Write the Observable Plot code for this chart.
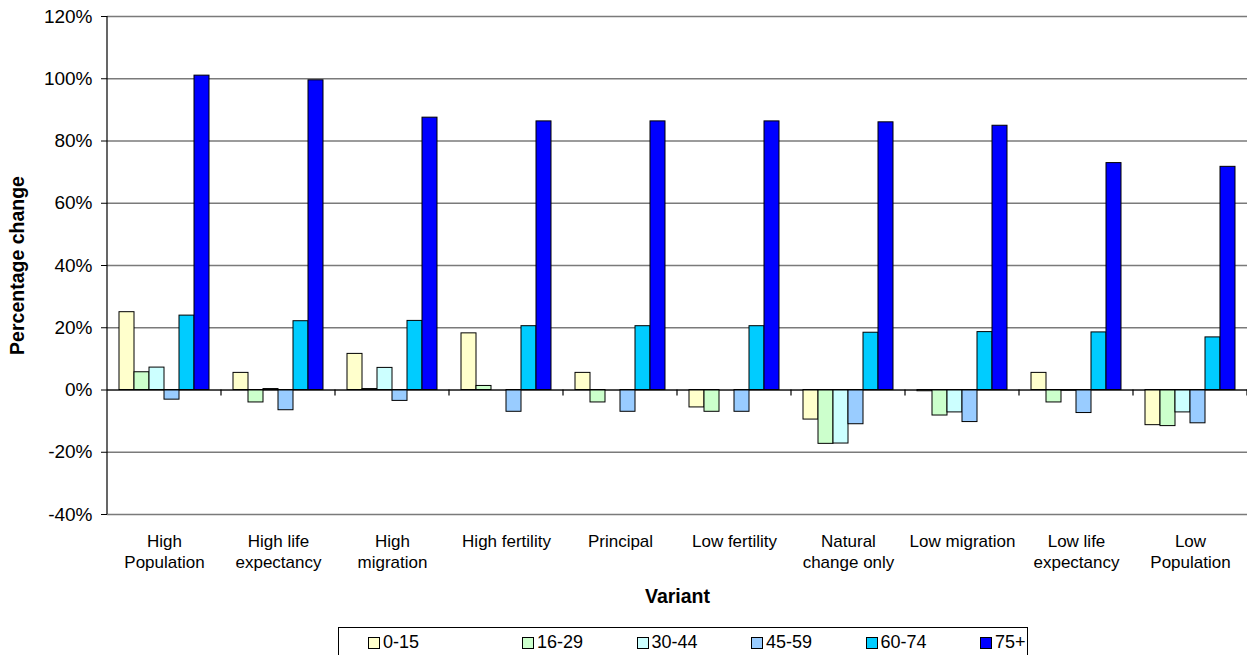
<!DOCTYPE html>
<html>
<head>
<meta charset="utf-8">
<script src="https://cdn.jsdelivr.net/npm/d3@7"></script>
<script src="https://cdn.jsdelivr.net/npm/@observablehq/plot@0.6"></script>
<style>
  body { margin: 0; background: #fff; font-family: Arial, "Liberation Sans", sans-serif; }
  #wrap { position: relative; width: 1247px; height: 655px; overflow: hidden; background: #fff; }
  #wrap svg { display: block; }
  #legend {
    position: absolute; left: 338px; top: 627px; width: 690px; height: 34px;
    box-sizing: border-box; border: 1px solid #000; background: #fff;
    display: flex; align-items: flex-start; padding: 4px 0 0 29px;
    font-size: 18px; color: #000;
  }
  #legend .item { display: flex; align-items: center; width: 114.5px; flex: none; }
  #legend .item:first-child { width: 154px; }
  #legend .sw { width: 10px; height: 10px; border: 1px solid #000; margin-right: 3px; flex: none; }
</style>
</head>
<body>
<div id="wrap"></div>
<script>
// Projection variants (categories) and their two-line axis labels
const variants = ["High Population", "High life expectancy", "High migration", "High fertility", "Principal",
  "Low fertility", "Natural change only", "Low migration", "Low life expectancy", "Low Population"];
const variantLabels = ["High\nPopulation", "High life\nexpectancy", "High\nmigration", "High fertility", "Principal",
  "Low fertility", "Natural\nchange only", "Low migration", "Low life\nexpectancy", "Low\nPopulation"];

// Age bands (series) and their fills
const ageBands = ["0-15", "16-29", "30-44", "45-59", "60-74", "75+"];
const bandColors = ["#FFFFCC", "#CCFFCC", "#CCFFFF", "#99CCFF", "#00CCFF", "#0000FF"];

// Percentage change per variant, one array per age band
const age0_15  = [25.0, 5.5, 11.6, 18.2, 5.5, -5.6, -9.5, -0.4, 5.5, -11.3];
const age16_29 = [5.7, -4.0, 0.3, 1.3, -4.0, -7.0, -17.3, -8.2, -4.0, -11.6];
const age30_44 = [7.2, 0.3, 7.1, 0.0, 0.0, 0.0, -17.2, -7.2, -0.2, -7.2];
const age45_59 = [-3.1, -6.5, -3.5, -7.0, -7.0, -7.0, -11.0, -10.3, -7.4, -10.7];
const age60_74 = [23.9, 22.1, 22.2, 20.5, 20.5, 20.5, 18.4, 18.6, 18.5, 16.9];
const age75plus = [101.0, 99.5, 87.5, 86.3, 86.3, 86.3, 86.0, 84.9, 72.9, 71.7];

// Value axis ticks
const yTicks = [-40, -20, 0, 20, 40, 60, 80, 100, 120];

const series = [age0_15, age16_29, age30_44, age45_59, age60_74, age75plus];
const rows = [];
variants.forEach((v, i) => {
  ageBands.forEach((b, j) => rows.push({variant: v, band: b, value: series[j][i]}));
});

const font = 'Arial, "Liberation Sans", sans-serif';

const chart = Plot.plot({
  width: 1247,
  height: 620,
  marginTop: 16,
  marginBottom: 106,
  marginLeft: 107,
  marginRight: 0,
  style: {fontFamily: font, background: "white", color: "#000", overflow: "visible"},
  fx: {domain: variants, padding: 0},
  x: {domain: ageBands, paddingInner: 0, paddingOuter: 0.75, axis: null},
  y: {domain: [-40, 120]},
  color: {domain: ageBands, range: bandColors},
  marks: [
    Plot.ruleY(yTicks, {stroke: "#7a7a7a", strokeWidth: 1.3}),
    Plot.barY(rows, {fx: "variant", x: "band", y: "value", fill: "band", stroke: "#000", strokeWidth: 1}),
    Plot.ruleY([0], {stroke: "#000", strokeWidth: 1.2}),
    Plot.axisY({
      ticks: yTicks, tickFormat: d => d + "%", tickSize: 6, tickPadding: 9,
      fontSize: 19, label: "Percentage change", labelAnchor: "center", labelArrow: "none", labelOffset: 97
    }),
    Plot.axisFx({
      anchor: "bottom", tickSize: 0, tickPadding: 18, fontSize: 17, lineHeight: 1.23,
      tickFormat: d => variantLabels[variants.indexOf(d)],
      label: "Variant", labelAnchor: "center", labelArrow: "none", labelOffset: 88
    })
  ]
});

// Axis titles in bold
const svg = d3.select(chart);
svg.selectAll('[aria-label="y-axis label"] text, [aria-label="fx-axis label"] text')
  .attr("font-weight", "bold").attr("font-size", 19.5);

// Vertical value-axis line and category boundary ticks, placed with the plot's scales
const fxScale = chart.scale("fx");
const yScale = chart.scale("y");
const y0 = yScale.apply(0);
const g = svg.append("g").attr("stroke", "#000").attr("stroke-width", 1.2);
const left = fxScale.apply(variants[0]);
g.append("line").attr("x1", left).attr("x2", left)
  .attr("y1", yScale.apply(120)).attr("y2", yScale.apply(-40));
variants.forEach(v => {
  const xx = fxScale.apply(v) + fxScale.bandwidth;
  g.append("line").attr("x1", xx).attr("x2", xx).attr("y1", y0).attr("y2", y0 + 6);
});

document.getElementById("wrap").appendChild(chart);

// Legend below the chart
const legend = d3.select("#wrap").append("div").attr("id", "legend");
ageBands.forEach((b, i) => {
  const item = legend.append("div").attr("class", "item");
  item.append("span").attr("class", "sw").style("background", bandColors[i]);
  item.append("span").text(b);
});
</script>
</body>
</html>
